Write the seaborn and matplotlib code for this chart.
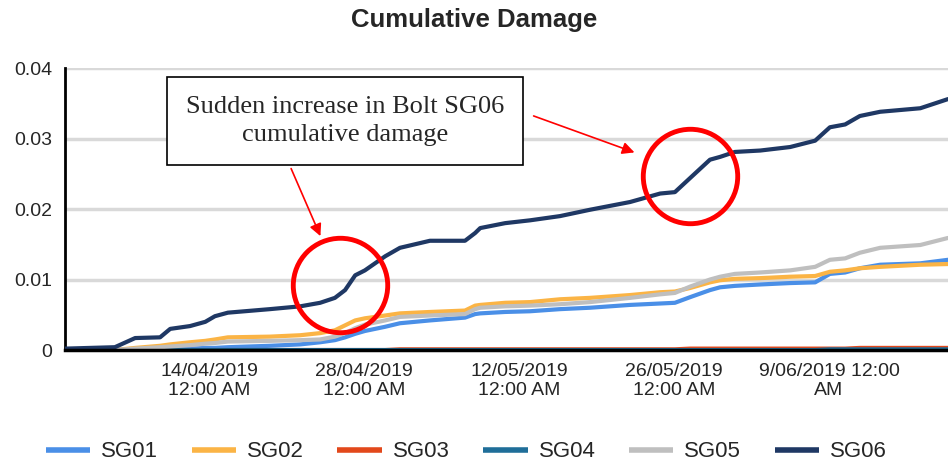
import pandas as pd
import numpy as np
import matplotlib
matplotlib.use('Agg')
import matplotlib.pyplot as plt
import matplotlib.dates as mdates
import seaborn as sns

# 1. Data
dates = ['2019-04-01 00:00', '2019-04-05 12:00', '2019-04-07 08:00', '2019-04-09 14:00',
         '2019-04-10 12:00', '2019-04-12 07:00', '2019-04-13 16:00', '2019-04-14 13:00',
         '2019-04-15 17:00', '2019-04-19 12:00', '2019-04-22 06:00', '2019-04-24 01:00',
         '2019-04-25 09:00', '2019-04-26 07:00', '2019-04-27 05:00', '2019-04-28 02:00',
         '2019-04-29 22:00', '2019-05-01 06:00', '2019-05-03 23:00', '2019-05-07 03:00',
         '2019-05-08 01:00', '2019-05-08 12:00', '2019-05-10 18:00', '2019-05-13 00:00',
         '2019-05-15 17:00', '2019-05-18 10:00', '2019-05-22 01:00', '2019-05-24 18:00',
         '2019-05-26 02:00', '2019-05-27 11:00', '2019-05-29 06:00', '2019-05-30 04:00',
         '2019-05-31 12:00', '2019-06-02 19:00', '2019-06-05 12:00', '2019-06-07 18:00',
         '2019-06-09 02:00', '2019-06-10 11:00', '2019-06-11 19:00', '2019-06-13 15:00',
         '2019-06-17 06:00', '2019-06-19 18:00']

sg01 = [0, 0, 0.0001, 0.0001, 0.0002, 0.0002, 0.0003, 0.0003, 0.0004, 0.0006, 0.0008, 0.0011,
        0.0014, 0.0018, 0.0023, 0.0027, 0.0033, 0.0038, 0.0042, 0.0046, 0.0051, 0.0052,
        0.0054, 0.0055, 0.0058, 0.0060, 0.0064, 0.0066, 0.0067, 0.0075, 0.0085, 0.0089,
        0.0091, 0.0093, 0.0095, 0.0096, 0.0108, 0.0110, 0.0116, 0.0121, 0.0123, 0.0128]
sg02 = [0, 0, 0.0003, 0.0006, 0.0008, 0.0011, 0.0013, 0.0015, 0.0018, 0.0019, 0.0021, 0.0024,
        0.0028, 0.0035, 0.0042, 0.0045, 0.0049, 0.0052, 0.0054, 0.0056, 0.0063, 0.0064,
        0.0067, 0.0068, 0.0072, 0.0074, 0.0078, 0.0082, 0.0083, 0.0088, 0.0096, 0.0099,
        0.0101, 0.0102, 0.0104, 0.0105, 0.0111, 0.0113, 0.0116, 0.0118, 0.0121, 0.0122]
sg03 = [0, 0, 0, 0, 0, 0, 0, 0, 0, 0, 0, 0,
        0, 0, 0, 0, 0, 0.0001, 0.0001, 0.0001, 0.0001, 0.0001,
        0.0001, 0.0001, 0.0001, 0.0001, 0.0001, 0.0001, 0.0001, 0.0002, 0.0002, 0.0002,
        0.0002, 0.0002, 0.0002, 0.0002, 0.0002, 0.0002, 0.0003, 0.0003, 0.0003, 0.0003]
sg04 = [0, 0, 0, 0, 0, 0, 0, 0, 0, 0, 0, 0,
        0, 0, 0, 0, 0, 0, 0, 0, 0, 0,
        0, 0, 0, 0, 0, 0, 0, 0, 0, 0,
        0, 0, 0, 0, 0.0001, 0.0001, 0.0001, 0.0001, 0.0001, 0.0001]
sg05 = [0, 0, 0.0002, 0.0004, 0.0005, 0.0007, 0.0009, 0.0010, 0.0012, 0.0013, 0.0014, 0.0015,
        0.0019, 0.0024, 0.0031, 0.0036, 0.0042, 0.0047, 0.0049, 0.0051, 0.0058, 0.0060,
        0.0062, 0.0063, 0.0065, 0.0068, 0.0074, 0.0079, 0.0081, 0.0090, 0.0100, 0.0104,
        0.0108, 0.0110, 0.0113, 0.0118, 0.0128, 0.0130, 0.0138, 0.0145, 0.0149, 0.0159]
sg06 = [0.0002, 0.0004, 0.0017, 0.0018, 0.0030, 0.0034, 0.0040, 0.0048, 0.0053, 0.0058, 0.0062, 0.0067,
        0.0074, 0.0085, 0.0106, 0.0113, 0.0133, 0.0145, 0.0155, 0.0155, 0.0166, 0.0173,
        0.0180, 0.0184, 0.0190, 0.0199, 0.0210, 0.0222, 0.0224, 0.0244, 0.0270, 0.0274,
        0.0281, 0.0283, 0.0288, 0.0297, 0.0316, 0.0320, 0.0332, 0.0338, 0.0343, 0.0356]

series_names = ['SG01', 'SG02', 'SG03', 'SG04', 'SG05', 'SG06']
series_colors = ['#4A8FE7', '#FBB445', '#E2481B', '#1F6E99', '#BFBFBF', '#1F3864']

tick_dates = ['2019-04-14', '2019-04-28', '2019-05-12', '2019-05-26', '2019-06-09']
tick_labels = ['14/04/2019\n12:00 AM', '28/04/2019\n12:00 AM', '12/05/2019\n12:00 AM',
               '26/05/2019\n12:00 AM', '9/06/2019 12:00\nAM']
y_ticks = [0, 0.01, 0.02, 0.03, 0.04]

# circled spots on SG06 (centre date, centre value)
highlight_dates = ['2019-04-25 20:00', '2019-05-27 11:00']
highlight_values = [0.0092, 0.0247]

# 2. Long-form table for seaborn
df = pd.DataFrame({'date': pd.to_datetime(dates), 'SG01': sg01, 'SG02': sg02, 'SG03': sg03,
                   'SG04': sg04, 'SG05': sg05, 'SG06': sg06})
long_df = df.melt(id_vars='date', var_name='series', value_name='damage')

# 3. Plot
sns.set_style('white')
plt.rcParams['font.family'] = ['Liberation Sans', 'DejaVu Sans']

fig = plt.figure(figsize=(9.48, 4.63), dpi=100)
ax = fig.add_axes([0.0686, 0.244, 0.9314, 0.609])

sns.lineplot(data=long_df, x='date', y='damage', hue='series', hue_order=series_names,
             palette=dict(zip(series_names, series_colors)), linewidth=3, ax=ax,
             legend=False, zorder=3)

ax.set_xlim(pd.Timestamp('2019-04-01'), pd.Timestamp('2019-06-19 18:00'))
ax.set_ylim(0, 0.04)
ax.set_yticks(y_ticks)
ax.set_yticklabels([f'{v:g}' for v in y_ticks], fontsize=14)
ax.set_xticks(pd.to_datetime(tick_dates))
ax.set_xticklabels(tick_labels, fontsize=14, linespacing=1.2)
ax.set_xlabel('')
ax.set_ylabel('')
ax.tick_params(axis='both', direction='out', length=5, width=1, color='black', pad=4)

ax.grid(axis='y', color='#D9D9D9', linewidth=2.5, zorder=0)
ax.grid(axis='x', visible=False)
for side in ['top', 'right']:
    ax.spines[side].set_visible(False)
ax.spines['left'].set_color('black')
ax.spines['left'].set_linewidth(2)
ax.spines['bottom'].set_color('black')
ax.spines['bottom'].set_linewidth(2.5)
ax.spines['bottom'].set_zorder(4)

fig.text(0.5, 1 - 20 / 463, 'Cumulative Damage', ha='center', va='center',
         fontsize=18.5, fontweight='bold')

# red circles
ax.plot(pd.to_datetime(highlight_dates), highlight_values, linestyle='none', marker='o',
        markersize=68, markerfacecolor='none', markeredgecolor='#FF0000',
        markeredgewidth=3.5, zorder=5, clip_on=False)

# annotation box with two arrows
box_style = dict(boxstyle='square,pad=0.7', facecolor='white', edgecolor='black', linewidth=1.2)
arrow_style = dict(arrowstyle='-|>', color='#FF0000', lw=1.2, mutation_scale=18)
fig.text(345 / 948, 1 - 121 / 463, 'Sudden increase in Bolt SG06\ncumulative damage',
         ha='center', va='center', fontsize=19, family=['Liberation Serif', 'DejaVu Serif'],
         linespacing=1.4, bbox=box_style, zorder=6)
ax.annotate('', xy=(pd.Timestamp('2019-04-24 04:00'), 0.0158),
            xytext=(290 / 948, 1 - 166 / 463), textcoords='figure fraction',
            arrowprops=arrow_style, zorder=6)
ax.annotate('', xy=(pd.Timestamp('2019-05-22 16:00'), 0.0279),
            xytext=(531 / 948, 1 - 115 / 463), textcoords='figure fraction',
            arrowprops=arrow_style, zorder=6)

# legend along the bottom
handles = [plt.Line2D([], [], color=c, linewidth=4, solid_capstyle='butt') for c in series_colors]
fig.legend(handles, series_names, loc='center', bbox_to_anchor=(0.492, 0.024), ncol=6,
           frameon=False, fontsize=16, handlelength=2.0, handletextpad=0.5, columnspacing=1.5)

plt.savefig('out.png', dpi=100)
plt.close()
